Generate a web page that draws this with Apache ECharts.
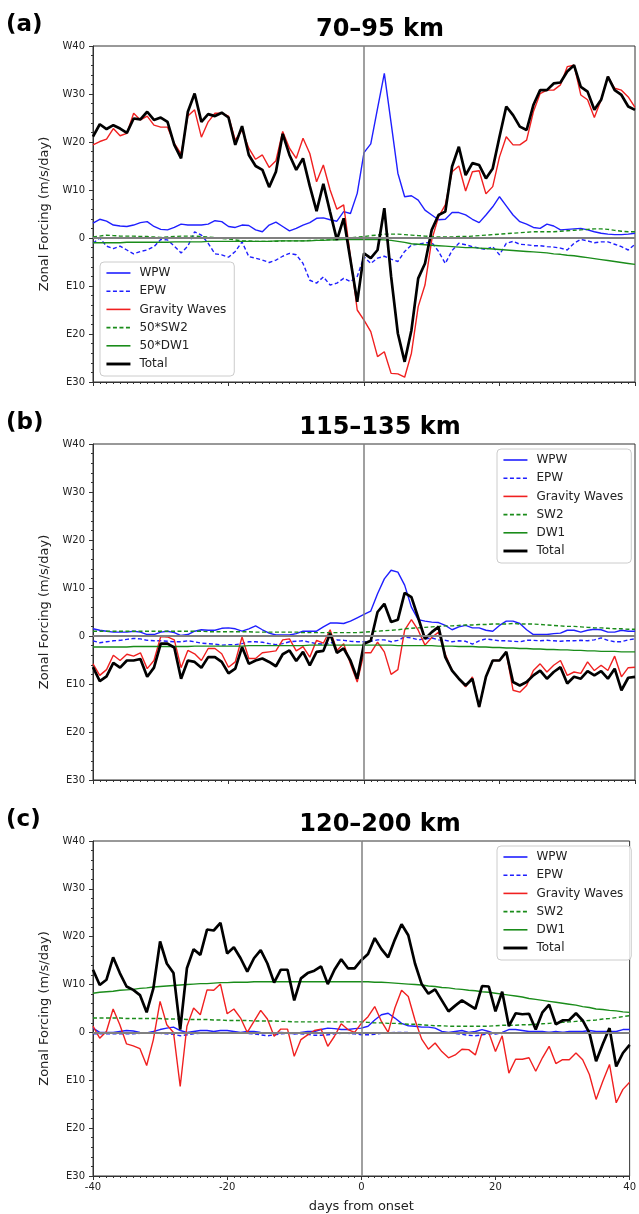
<!DOCTYPE html>
<html>
<head>
<meta charset="UTF-8">
<script src="https://cdn.jsdelivr.net/npm/echarts@6/dist/echarts.min.js"></script>
<style>
  html, body { margin: 0; padding: 0; background: #fff; }
  #chart { width: 639px; height: 1214px; }
</style>
</head>
<body>
<div id="chart"></div>
<script>
// days from onset
const days = [-40, -39, -38, -37, -36, -35, -34, -33, -32, -31, -30, -29, -28, -27, -26, -25, -24, -23, -22, -21,
  -20, -19, -18, -17, -16, -15, -14, -13, -12, -11, -10, -9, -8, -7, -6, -5, -4, -3, -2, -1,
  0, 1, 2, 3, 4, 5, 6, 7, 8, 9, 10, 11, 12, 13, 14, 15, 16, 17, 18, 19,
  20, 21, 22, 23, 24, 25, 26, 27, 28, 29, 30, 31, 32, 33, 34, 35, 36, 37, 38, 39, 40];

// (a) 70-95 km
const aWPW = [3.1, 3.9, 3.5, 2.7, 2.5, 2.4, 2.7, 3.2, 3.4, 2.4,
  1.8, 1.7, 2.2, 2.9, 2.7, 2.7, 2.7, 2.9, 3.6, 3.4,
  2.4, 2.2, 2.7, 2.6, 1.7, 1.3, 2.7, 3.3, 2.4, 1.5,
  2.0, 2.7, 3.2, 4.1, 4.2, 3.8, 3.5, 5.5, 5.1, 9.3,
  17.8, 19.6, 27.0, 34.3, 24.0, 13.5, 8.6, 8.8, 7.9, 5.8,
  4.8, 3.8, 3.9, 5.3, 5.3, 4.8, 3.9, 3.2, 4.8, 6.5,
  8.6, 6.7, 4.8, 3.4, 2.9, 2.2, 2.0, 2.9, 2.5, 1.7,
  1.8, 1.9, 2.0, 1.7, 1.3, 1.0, 0.8, 0.7, 0.7, 0.8,
  1.0];
const aEPW = [-1.1, 0.0, -1.7, -2.2, -1.7, -2.5, -3.3, -2.8, -2.5, -1.8,
  -0.3, -0.4, -1.7, -3.1, -1.7, 1.3, 0.6, -1.1, -3.3, -3.5,
  -4.0, -2.8, -0.8, -3.9, -4.2, -4.6, -5.1, -4.6, -3.8, -3.2,
  -3.5, -5.3, -8.8, -9.4, -8.1, -9.8, -9.4, -8.4, -9.1, -8.0,
  -3.9, -5.3, -4.2, -3.8, -4.4, -4.9, -2.8, -1.5, -1.3, -1.0,
  -0.9, -2.8, -5.3, -2.6, -1.1, -1.4, -1.8, -2.1, -2.4, -1.8,
  -3.5, -1.1, -0.7, -1.3, -1.4, -1.6, -1.6, -1.8, -1.9, -2.1,
  -2.5, -1.1, -0.3, -0.6, -1.0, -0.8, -0.8, -1.3, -1.8, -2.5,
  -1.3];
const aGW = [19.4, 20.1, 20.6, 22.8, 21.3, 21.8, 26.0, 24.6, 25.4, 23.5,
  23.1, 23.1, 19.7, 17.5, 25.4, 26.7, 21.0, 24.2, 26.0, 26.0,
  25.4, 20.4, 22.5, 18.7, 16.4, 17.3, 14.7, 16.1, 22.2, 18.7,
  16.6, 20.8, 17.6, 11.7, 15.2, 10.0, 6.0, 6.9, -4.0, -15.0,
  -17.1, -19.5, -24.7, -23.7, -28.2, -28.3, -29.0, -24.0, -14.3, -9.8,
  -0.4, 4.4, 6.9, 13.8, 15.0, 9.8, 13.8, 14.0, 9.2, 10.7,
  16.9, 21.1, 19.4, 19.4, 20.4, 26.3, 30.1, 30.8, 30.8, 31.9,
  35.7, 36.0, 29.8, 28.8, 25.1, 28.8, 33.6, 31.2, 30.8, 29.4,
  27.2];
const aSW2 = [0.2, 0.4, 0.6, 0.5, 0.4, 0.4, 0.4, 0.3, 0.3, 0.2,
  0.1, 0.2, 0.3, 0.4, 0.4, 0.4, 0.3, 0.2, 0.1, -0.1,
  -0.2, -0.4, -0.6, -0.6, -0.7, -0.7, -0.7, -0.7, -0.6, -0.6,
  -0.6, -0.6, -0.5, -0.5, -0.4, -0.4, -0.3, -0.2, 0.0, 0.2,
  0.3, 0.5, 0.6, 0.8, 0.8, 0.8, 0.7, 0.6, 0.5, 0.4,
  0.3, 0.2, 0.2, 0.2, 0.3, 0.3, 0.4, 0.5, 0.6, 0.7,
  0.8, 0.9, 1.0, 1.1, 1.2, 1.3, 1.3, 1.3, 1.3, 1.4,
  1.5, 1.6, 1.7, 1.8, 1.9, 1.9, 1.8, 1.6, 1.4, 1.3,
  1.3];
const aDW1 = [-1.0, -1.0, -1.0, -1.0, -1.0, -0.9, -0.9, -0.9, -0.9, -0.9,
  -0.9, -0.9, -0.8, -0.8, -0.8, -0.8, -0.8, -0.7, -0.7, -0.7,
  -0.7, -0.7, -0.7, -0.7, -0.7, -0.7, -0.7, -0.6, -0.6, -0.6,
  -0.6, -0.6, -0.6, -0.5, -0.5, -0.4, -0.4, -0.3, -0.3, -0.3,
  -0.3, -0.3, -0.3, -0.4, -0.5, -0.7, -0.9, -1.2, -1.3, -1.4,
  -1.5, -1.6, -1.7, -1.8, -1.9, -2.0, -2.0, -2.1, -2.2, -2.3,
  -2.4, -2.5, -2.6, -2.7, -2.8, -2.9, -3.0, -3.1, -3.3, -3.4,
  -3.6, -3.7, -3.9, -4.1, -4.3, -4.5, -4.7, -4.9, -5.1, -5.3,
  -5.5];
const aTotal = [21.1, 23.7, 22.7, 23.5, 22.8, 21.9, 24.9, 24.7, 26.3, 24.6,
  25.1, 24.2, 19.4, 16.6, 26.3, 30.1, 24.2, 25.8, 25.4, 26.1,
  25.1, 19.4, 23.3, 17.3, 15.0, 14.2, 10.6, 13.8, 21.7, 17.3,
  14.2, 16.6, 10.8, 5.6, 11.3, 5.4, -0.4, 4.1, -4.6, -13.3,
  -3.2, -4.2, -2.5, 6.2, -8.0, -19.9, -25.8, -19.2, -8.4, -5.3,
  1.7, 4.8, 5.5, 14.9, 19.0, 13.1, 15.6, 15.2, 12.4, 14.5,
  21.1, 27.4, 25.6, 23.2, 22.5, 27.7, 30.8, 30.8, 32.2, 32.4,
  34.7, 36.0, 31.5, 30.5, 26.7, 28.8, 33.6, 30.8, 29.8, 27.4,
  26.7];

// (b) 115-135 km
const bWPW = [1.5, 1.2, 1.0, 0.8, 0.8, 0.8, 1.0, 0.8, 0.3, 0.3,
  0.8, 1.0, 0.7, 0.1, 0.3, 1.0, 1.3, 1.2, 1.2, 1.6,
  1.7, 1.5, 1.0, 1.5, 2.1, 1.3, 0.6, 0.2, 0.2, 0.2,
  0.5, 1.0, 1.0, 1.0, 1.9, 2.7, 2.7, 2.6, 3.1, 3.8,
  4.5, 5.2, 8.8, 11.9, 13.7, 13.3, 10.6, 6.0, 3.4, 3.1,
  2.9, 2.8, 2.2, 1.3, 1.9, 2.2, 1.7, 1.7, 1.2, 1.0,
  2.2, 3.1, 3.1, 2.6, 1.3, 0.3, 0.3, 0.3, 0.5, 0.6,
  1.2, 1.2, 0.8, 1.2, 1.4, 1.3, 0.8, 0.8, 1.2, 1.0,
  1.0];
const bEPW = [-1.0, -1.4, -1.2, -1.0, -0.9, -0.7, -0.5, -0.6, -0.9, -1.0,
  -1.0, -1.1, -1.2, -1.2, -1.0, -1.2, -1.5, -1.6, -1.7, -1.9,
  -1.8, -1.8, -1.6, -1.2, -1.2, -1.3, -1.6, -1.8, -1.6, -1.2,
  -1.1, -1.0, -1.3, -1.6, -1.7, -1.6, -0.8, -0.9, -1.1, -1.2,
  -1.2, -1.1, -0.8, -0.8, -1.2, -0.9, -0.2, -0.4, -0.8, -0.6,
  -0.4, -0.8, -0.9, -1.2, -1.0, -1.1, -1.7, -1.0, -0.6, -0.8,
  -1.0, -1.0, -1.1, -1.2, -0.9, -0.9, -1.0, -0.9, -1.0, -1.1,
  -1.0, -1.0, -0.9, -1.0, -0.8, -0.4, -0.9, -1.2, -1.2, -0.8,
  -0.6];
const bGW = [-5.8, -8.2, -7.0, -4.0, -5.1, -3.8, -4.2, -3.5, -6.8, -5.1,
  -0.1, -0.2, -0.8, -6.6, -3.0, -3.7, -5.1, -2.6, -2.6, -3.7,
  -6.5, -5.4, -0.2, -4.7, -4.7, -3.5, -3.3, -3.1, -0.8, -0.6,
  -3.1, -2.2, -4.4, -0.9, -1.5, 1.3, -3.0, -1.6, -5.8, -9.6,
  -3.5, -3.5, -1.3, -3.3, -8.0, -7.0, 1.2, 3.4, 1.2, -1.9,
  -0.3, 0.8, -3.8, -7.2, -8.9, -10.6, -8.5, -14.8, -8.5, -5.1,
  -5.1, -3.5, -11.3, -11.7, -10.3, -7.2, -5.8, -7.5, -6.1, -5.1,
  -8.2, -7.5, -7.8, -5.4, -7.2, -6.1, -7.2, -4.2, -8.5, -6.6,
  -6.5];
const bSW2 = [1.0, 1.0, 1.0, 1.0, 1.0, 1.0, 1.0, 1.0, 1.0, 1.0,
  1.0, 1.0, 1.0, 1.0, 1.0, 1.0, 1.0, 0.9, 0.9, 0.9,
  0.9, 0.9, 0.9, 0.9, 0.8, 0.8, 0.8, 0.8, 0.8, 0.8,
  0.8, 0.7, 0.7, 0.7, 0.7, 0.7, 0.7, 0.7, 0.7, 0.7,
  0.8, 0.9, 1.0, 1.1, 1.2, 1.3, 1.5, 1.6, 1.7, 1.8,
  1.9, 2.0, 2.1, 2.1, 2.2, 2.3, 2.3, 2.4, 2.4, 2.5,
  2.5, 2.5, 2.6, 2.5, 2.5, 2.5, 2.4, 2.3, 2.2, 2.1,
  2.0, 2.0, 1.9, 1.8, 1.7, 1.7, 1.6, 1.5, 1.5, 1.4,
  1.4];
const bDW1 = [-2.3, -2.3, -2.3, -2.3, -2.3, -2.3, -2.2, -2.2, -2.2, -2.2,
  -2.2, -2.2, -2.2, -2.2, -2.2, -2.1, -2.1, -2.1, -2.1, -2.1,
  -2.1, -2.1, -2.1, -2.0, -2.0, -2.0, -2.0, -2.0, -2.0, -2.0,
  -2.0, -2.0, -1.9, -1.9, -1.9, -1.9, -1.9, -1.9, -1.9, -1.9,
  -1.9, -1.9, -1.9, -1.9, -1.9, -2.0, -2.0, -2.0, -2.0, -2.0,
  -2.0, -2.1, -2.1, -2.1, -2.2, -2.2, -2.2, -2.3, -2.3, -2.4,
  -2.4, -2.5, -2.5, -2.6, -2.6, -2.7, -2.7, -2.8, -2.8, -2.9,
  -2.9, -3.0, -3.0, -3.1, -3.1, -3.2, -3.2, -3.2, -3.3, -3.3,
  -3.3];
const bTotal = [-6.5, -9.4, -8.4, -5.6, -6.6, -5.1, -5.1, -4.8, -8.5, -6.6,
  -1.6, -1.6, -2.4, -8.9, -5.1, -5.4, -6.6, -4.4, -4.4, -5.4,
  -7.8, -6.8, -2.3, -5.8, -5.1, -4.7, -5.4, -6.3, -3.8, -3.0,
  -5.2, -3.3, -6.1, -3.3, -3.1, 0.5, -3.5, -2.6, -5.1, -8.9,
  -1.6, -1.0, 5.0, 6.7, 2.9, 3.4, 9.0, 8.1, 3.8, -0.6,
  0.8, 1.9, -4.4, -7.2, -8.9, -10.3, -8.9, -14.8, -8.5, -5.1,
  -5.1, -3.3, -9.6, -10.3, -9.6, -8.2, -7.2, -8.9, -7.5, -6.5,
  -9.9, -8.5, -8.9, -7.3, -8.2, -7.3, -8.9, -6.8, -11.3, -8.7,
  -8.5];

// (c) 120-200 km
const cWPW = [0.9, 0.0, 0.0, 0.0, 0.2, 0.4, 0.3, 0.0, -0.1, 0.2,
  0.6, 0.9, 1.1, 0.4, 0.0, 0.2, 0.4, 0.4, 0.2, 0.4,
  0.4, 0.2, 0.0, 0.2, 0.2, 0.0, -0.1, -0.1, 0.0, -0.1,
  -0.3, 0.0, 0.2, 0.2, 0.6, 0.9, 0.8, 0.6, 0.6, 0.8,
  0.9, 1.3, 2.6, 3.7, 4.0, 3.0, 1.9, 1.4, 1.3, 1.1,
  1.1, 0.9, 0.2, 0.0, 0.2, 0.4, 0.0, 0.2, 0.6, 0.2,
  -0.3, 0.0, 0.6, 0.6, 0.4, 0.2, 0.2, 0.2, 0.0, 0.2,
  0.0, 0.2, 0.2, 0.2, 0.4, 0.2, 0.2, 0.2, 0.2, 0.6,
  0.6];
const cEPW = [-0.3, -0.3, -0.3, -0.3, -0.3, -0.3, -0.3, -0.2, -0.2, -0.2,
  -0.2, -0.3, -0.4, -0.7, -0.5, -0.3, -0.2, -0.2, -0.2, -0.2,
  -0.2, -0.2, -0.2, -0.2, -0.3, -0.5, -0.7, -0.5, -0.3, -0.2,
  -0.3, -0.3, -0.4, -0.6, -0.6, -0.5, -0.3, -0.2, -0.2, -0.3,
  -0.5, -0.5, -0.4, -0.2, -0.1, 0.0, 0.0, 0.0, -0.1, -0.2,
  -0.2, -0.2, -0.1, -0.1, -0.2, -0.4, -0.6, -0.7, -0.5, -0.3,
  -0.3, -0.2, -0.2, -0.2, -0.2, -0.1, -0.1, -0.1, 0.0, 0.0,
  0.0, 0.0, -0.1, -0.1, -0.1, -0.2, -0.2, -0.2, -0.1, -0.1,
  -0.1];
const cGW = [1.3, -1.2, 0.2, 4.9, 1.6, -2.4, -2.8, -3.4, -6.9, -1.5,
  6.5, 1.6, 0.0, -11.3, 1.3, 5.1, 3.7, 8.9, 8.8, 10.1,
  3.9, 4.9, 3.0, 0.0, 2.3, 4.6, 2.8, -0.8, 0.7, 0.7,
  -5.0, -1.5, -0.5, 0.4, 0.7, -2.9, -0.8, 1.8, 0.6, 0.0,
  1.9, 3.3, 5.4, 2.3, 0.0, 5.1, 8.8, 7.5, 2.6, -1.4,
  -3.5, -2.2, -4.0, -5.3, -4.7, -3.5, -3.6, -4.7, -0.1, 0.0,
  -4.0, -0.7, -8.5, -5.6, -5.6, -5.3, -8.1, -5.3, -2.9, -6.5,
  -5.7, -5.7, -4.3, -5.7, -8.8, -14.0, -10.2, -6.7, -14.7, -11.9,
  -10.4];
const cSW2 = [3.0, 3.0, 3.0, 3.0, 3.0, 2.9, 2.9, 2.9, 2.9, 2.9,
  2.9, 2.8, 2.8, 2.8, 2.7, 2.7, 2.7, 2.7, 2.6, 2.6,
  2.5, 2.5, 2.5, 2.5, 2.4, 2.4, 2.4, 2.4, 2.3, 2.3,
  2.2, 2.2, 2.2, 2.2, 2.2, 2.2, 2.2, 2.2, 2.2, 2.2,
  2.2, 2.1, 2.0, 2.0, 1.9, 1.9, 1.8, 1.7, 1.7, 1.6,
  1.5, 1.4, 1.4, 1.3, 1.3, 1.3, 1.3, 1.3, 1.3, 1.3,
  1.4, 1.5, 1.5, 1.5, 1.6, 1.6, 1.7, 1.8, 1.9, 2.0,
  2.1, 2.2, 2.3, 2.4, 2.5, 2.6, 2.8, 2.9, 3.1, 3.3,
  3.5];
const cDW1 = [8.2, 8.4, 8.5, 8.6, 8.8, 8.9, 9.0, 9.2, 9.3, 9.5,
  9.6, 9.7, 9.8, 9.9, 10.0, 10.1, 10.2, 10.2, 10.3, 10.4,
  10.4, 10.5, 10.5, 10.5, 10.6, 10.6, 10.6, 10.6, 10.6, 10.6,
  10.6, 10.6, 10.6, 10.6, 10.6, 10.6, 10.6, 10.6, 10.6, 10.6,
  10.6, 10.6, 10.5, 10.5, 10.4, 10.3, 10.2, 10.1, 10.0, 9.9,
  9.7, 9.6, 9.4, 9.3, 9.1, 9.0, 8.8, 8.7, 8.5, 8.4,
  8.2, 8.0, 7.8, 7.6, 7.4, 7.1, 6.9, 6.7, 6.5, 6.3,
  6.1, 5.9, 5.7, 5.4, 5.2, 4.9, 4.8, 4.6, 4.5, 4.3,
  4.2];
const cTotal = [13.1, 9.9, 11.0, 15.7, 12.4, 9.6, 8.9, 7.8, 4.2, 9.2,
  19.0, 14.4, 12.4, 0.6, 13.4, 17.4, 16.2, 21.5, 21.3, 22.9,
  16.5, 17.8, 15.5, 12.7, 15.5, 17.2, 14.4, 10.4, 13.1, 13.1,
  6.7, 11.3, 12.4, 12.9, 13.8, 10.1, 13.1, 15.3, 13.4, 13.4,
  15.1, 16.4, 19.7, 17.4, 15.7, 19.4, 22.6, 20.3, 14.4, 10.1,
  8.1, 9.0, 6.7, 4.4, 5.6, 6.7, 5.8, 4.9, 9.7, 9.6,
  4.4, 8.5, 1.3, 4.0, 3.8, 3.9, 0.6, 4.2, 5.8, 1.7,
  2.5, 2.6, 4.0, 2.5, -0.1, -6.0, -2.4, 0.9, -7.1, -4.3,
  -2.6];

const panels = [
  { label: '(a)', title: '70–95 km', names: ['WPW', 'EPW', 'Gravity Waves', '50*SW2', '50*DW1', 'Total'],
    values: [aWPW, aEPW, aGW, aSW2, aDW1, aTotal] },
  { label: '(b)', title: '115–135 km', names: ['WPW', 'EPW', 'Gravity Waves', 'SW2', 'DW1', 'Total'],
    values: [bWPW, bEPW, bGW, bSW2, bDW1, bTotal] },
  { label: '(c)', title: '120–200 km', names: ['WPW', 'EPW', 'Gravity Waves', 'SW2', 'DW1', 'Total'],
    values: [cWPW, cEPW, cGW, cSW2, cDW1, cTotal] }
];

const styles = [
  { color: '#1f1fff', width: 1.4, type: 'solid' },
  { color: '#1f1fff', width: 1.4, type: [4, 2.5] },
  { color: '#f02020', width: 1.4, type: 'solid' },
  { color: '#1a8c1a', width: 1.4, type: [4, 2.5] },
  { color: '#1a8c1a', width: 1.4, type: 'solid' },
  { color: '#000000', width: 2.7, type: 'solid' }
];

const gridTops = [46, 444, 841];
const font = 'DejaVu Sans, sans-serif';

const grid = [], xAxis = [], yAxis = [], series = [], legend = [], title = [];

panels.forEach((p, gi) => {
  const top = gridTops[gi];
  const last = gi === panels.length - 1;
  grid.push({ left: 93, top: top, width: 542, height: 336, show: true,
    borderColor: '#333', borderWidth: 1, backgroundColor: 'transparent' });

  xAxis.push({
    type: 'value', gridIndex: gi, min: -40, max: 40, interval: 20,
    axisLine: { show: true, onZero: false, lineStyle: { color: '#333', width: 1 } },
    axisTick: { show: true, length: 4, lineStyle: { color: '#333' } },
    minorTick: { show: true, splitNumber: 20, length: 2, lineStyle: { color: '#333' } },
    splitLine: { show: false },
    axisLabel: { show: last, fontFamily: font, fontSize: 10, color: '#222', margin: 6 },
    name: last ? 'days from onset' : '', nameLocation: 'middle', nameGap: 24,
    nameTextStyle: { fontFamily: font, fontSize: 13, color: '#222' }
  });

  yAxis.push({
    type: 'value', gridIndex: gi, min: -30, max: 40, interval: 10,
    axisLine: { show: true, onZero: false, lineStyle: { color: '#333', width: 1 } },
    axisTick: { show: true, length: 4, lineStyle: { color: '#333' } },
    minorTick: { show: true, splitNumber: 5, length: 2, lineStyle: { color: '#333' } },
    splitLine: { show: false },
    axisLabel: { fontFamily: font, fontSize: 10, color: '#222', margin: 8,
      formatter: v => v > 0 ? 'W' + v : (v < 0 ? 'E' + (-v) : '0') },
    name: 'Zonal Forcing (m/s/day)', nameLocation: 'middle', nameGap: 35,
    nameTextStyle: { fontFamily: font, fontSize: 13, color: '#222' }
  });

  p.names.forEach((name, si) => {
    const st = styles[si];
    const s = {
      type: 'line', name: name, xAxisIndex: gi, yAxisIndex: gi,
      data: days.map((d, i) => [d, p.values[si][i]]),
      symbol: 'none', silent: true, z: 3,
      lineStyle: { color: st.color, width: st.width, type: st.type },
      itemStyle: { color: st.color }
    };
    if (si === 0) {
      s.markLine = {
        silent: true, symbol: 'none', label: { show: false },
        lineStyle: { color: '#808080', type: 'solid', width: 2 },
        data: [{ yAxis: 0 }, { xAxis: 0, lineStyle: { color: '#808080', type: 'solid', width: 1.5 } }]
      };
    }
    series.push(s);
  });

  legend.push({
    data: p.names.map((n, si) => ({
      name: n,
      lineStyle: { color: styles[si].color, width: styles[si].width + 0.2, type: styles[si].type }
    })),
    orient: 'vertical',
    left: gi === 0 ? 100 : 497,
    top: gi === 0 ? top + 216 : top + 5,
    itemWidth: 24, itemHeight: 12, itemGap: 6.2,
    padding: [5, 8, 6, 5],
    backgroundColor: 'rgba(255,255,255,0.85)',
    borderColor: '#cccccc', borderWidth: 1, borderRadius: 4,
    selectedMode: false,
    itemStyle: { opacity: 0 },
    textStyle: { fontFamily: font, fontSize: 12, color: '#222', padding: [0, 0, 0, 4] }
  });

  title.push({ text: p.label, left: 6, top: top - 32, padding: 0,
    textStyle: { fontFamily: font, fontSize: 23, fontWeight: 'bold', color: '#000' } });
  title.push({ text: p.title, left: 380, textAlign: 'center', top: top - 28, padding: 0,
    textStyle: { fontFamily: font, fontSize: 24, fontWeight: 'bold', color: '#000' } });
});

const chart = echarts.init(document.getElementById('chart'), null, { renderer: 'canvas' });
chart.setOption({
  animation: false,
  backgroundColor: '#fff',
  title: title,
  legend: legend,
  grid: grid,
  xAxis: xAxis,
  yAxis: yAxis,
  series: series
});
</script>
</body>
</html>
